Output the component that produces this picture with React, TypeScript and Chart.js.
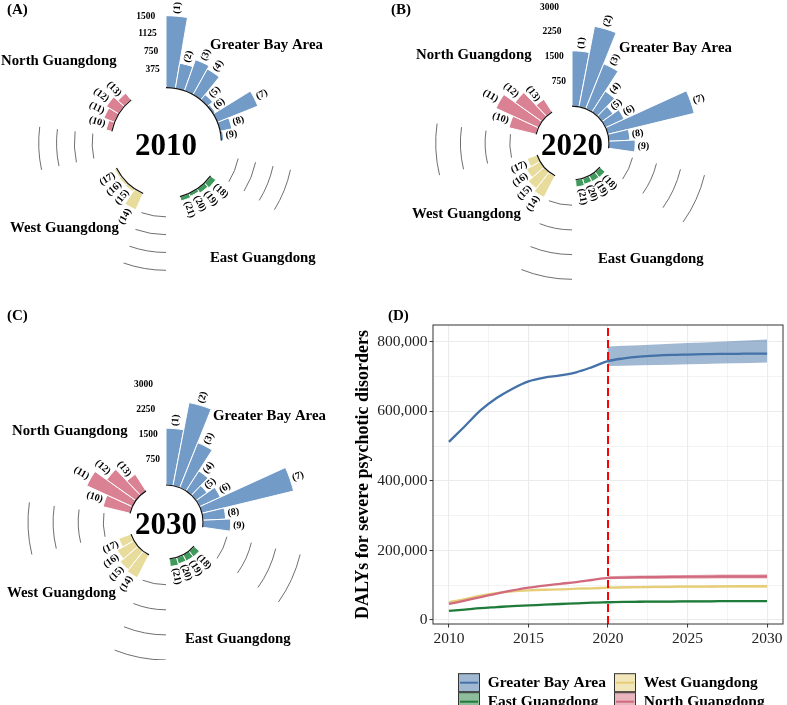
import React, { useEffect, useRef } from 'react';
import { Chart, registerables } from 'chart.js';

Chart.register(...registerables);

// ---------------- data ----------------
const regionNames = ['Greater Bay Area', 'North Guangdong', 'West Guangdong', 'East Guangdong'];
const gbaIds = [1, 2, 3, 4, 5, 6, 7, 8, 9];
const northIds = [10, 11, 12, 13];
const westIds = [14, 15, 16, 17];
const eastIds = [18, 19, 20, 21];

// per-city value, index = id - 1
const rate2010 = [1500, 525, 680, 605, 130, 40, 905, 240, 35, 110, 230, 290, 170, 365, 60, 50, 40, 125, 95, 55, 80];
const rate2020 = [1660, 2470, 1450, 730, 390, 600, 2680, 620, 780, 830, 1400, 980, 440, 720, 620, 460, 300, 190, 180, 170, 200];
const rate2030 = [1680, 2510, 1430, 690, 380, 660, 2800, 660, 810, 810, 1480, 1050, 570, 750, 690, 560, 370, 200, 190, 180, 210];

const ticks2010 = [375, 750, 1125, 1500];
const ticks2020 = [750, 1500, 2250, 3000];
const ticks2030 = [750, 1500, 2250, 3000];

const years = [2010, 2011, 2012, 2013, 2014, 2015, 2016, 2017, 2018, 2019, 2020, 2021, 2022, 2023, 2024, 2025, 2026, 2027, 2028, 2029, 2030];
const gbaDalys = [512000, 557000, 603000, 638000, 665000, 686000, 697000, 703000, 712000, 727000, 744000, 752000, 757000, 760000, 762000, 763000, 764000, 765000, 765000, 766000, 766000];
const northDalys = [46000, 56000, 66000, 76000, 85000, 93000, 99000, 104000, 109000, 115000, 121000, 122000, 123000, 123500, 124000, 124500, 124500, 125000, 125000, 125000, 125000];
const westDalys = [51000, 60000, 70000, 77000, 82000, 85000, 87000, 88000, 90000, 91000, 93000, 94000, 94500, 95000, 95500, 96000, 96000, 96500, 97000, 97000, 97000];
const eastDalys = [26000, 30000, 34000, 37000, 40000, 42000, 44000, 46000, 48000, 50000, 51000, 52000, 52500, 53000, 53000, 53500, 53500, 54000, 54000, 54000, 54000];

const projYears = [2020, 2021, 2022, 2023, 2024, 2025, 2026, 2027, 2028, 2029, 2030];
const gbaUpper = [786000, 788000, 790000, 792000, 794000, 796000, 798000, 800000, 802000, 804000, 806000];
const gbaLower = [730000, 731000, 732000, 733000, 734000, 735000, 736000, 737000, 738000, 739000, 740000];
const northUpper = [126000, 127000, 128000, 128500, 129000, 129500, 130000, 130500, 131000, 131000, 131500];
const northLower = [117000, 117500, 118000, 118000, 118500, 118500, 118500, 119000, 119000, 119000, 119000];
const westUpper = [96500, 97500, 98000, 98500, 99000, 99500, 99500, 100000, 100500, 100500, 101000];
const westLower = [90000, 90500, 91000, 91500, 92000, 92500, 92500, 93000, 93500, 93500, 93500];
const eastUpper = [53500, 54500, 55000, 55500, 55500, 56000, 56000, 56500, 56500, 56500, 56500];
const eastLower = [48500, 49500, 50000, 50500, 50500, 51000, 51000, 51500, 51500, 51500, 51500];

const xGridValues = [2010, 2012.5, 2015, 2017.5, 2020, 2022.5, 2025, 2027.5, 2030];
const yGridValues = [0, 100000, 200000, 300000, 400000, 500000, 600000, 700000, 800000];
const yTitle = 'DALYs for severe psychotic disorders';

// ---------------- styles ----------------
const SERIF = '"Liberation Serif", "Times New Roman", serif';
const BAR_COLORS = { gba: '#739BC7', north: '#DA8293', west: '#E8DC9C', east: '#3F9A5C' };
const LINE_COLORS = { gba: '#4472A8', north: '#D26A7E', west: '#E6CE78', east: '#1E7B39' };
const BAND_COLORS = {
  gba: 'rgba(68,114,168,0.5)',
  north: 'rgba(210,106,126,0.5)',
  west: 'rgba(230,206,120,0.5)',
  east: 'rgba(30,123,57,0.5)',
};

// clockwise ring order of region groups
const ringGroups = [
  { key: 'gba', ids: gbaIds },
  { key: 'east', ids: eastIds },
  { key: 'west', ids: westIds },
  { key: 'north', ids: northIds },
];

type Slot = { id: number | null; key: string };
type Ring = { slots: Slot[]; barRuns: number[][]; gapRuns: number[][] };

function buildRing(gapSize: number): Ring {
  const slots: Slot[] = [];
  const barRuns: number[][] = [];
  const gapRuns: number[][] = [];
  ringGroups.forEach((g) => {
    const run: number[] = [];
    g.ids.forEach((id) => { run.push(slots.length); slots.push({ id, key: g.key }); });
    barRuns.push(run);
    const gap: number[] = [];
    for (let k = 0; k < gapSize; k++) { gap.push(slots.length); slots.push({ id: null, key: 'gap' }); }
    gapRuns.push(gap);
  });
  return { slots, barRuns, gapRuns };
}

type Panel = {
  letter: string; year: string; values: number[]; ticks: number[];
  gapSize: number; guideFrom: number;
  left: number; top: number; w: number; h: number;
  cx: number; cy: number; R: number; rHole: number; rTop: number;
  letterX: number; letterY: number;
  labels: [string, number, number][];
};

const panels: Panel[] = [
  {
    letter: '(A)', year: '2010', values: rate2010, ticks: ticks2010, gapSize: 4, guideFrom: 1,
    left: 0, top: 0, w: 390, h: 290, cx: 166, cy: 143, R: 140, rHole: 56, rTop: 127.3,
    letterX: 7, letterY: 14,
    labels: [[regionNames[0], 44, -94], [regionNames[1], -165, -78], [regionNames[2], -156, 88.5], [regionNames[3], 44, 118.5]],
  },
  {
    letter: '(B)', year: '2020', values: rate2020, ticks: ticks2020, gapSize: 3, guideFrom: 0,
    left: 390, top: 0, w: 397, h: 290, cx: 182, cy: 143, R: 140, rHole: 37.5, rTop: 136.3,
    letterX: 1, letterY: 14,
    labels: [[regionNames[0], 47, -91.5], [regionNames[1], -156, -84], [regionNames[2], -160, 75], [regionNames[3], 26, 120]],
  },
  {
    letter: '(C)', year: '2030', values: rate2030, ticks: ticks2030, gapSize: 3, guideFrom: 0,
    left: 0, top: 300, w: 390, h: 360, cx: 166, cy: 222, R: 138, rHole: 37.6, rTop: 138,
    letterX: 7, letterY: 20,
    labels: [[regionNames[0], 47, -102], [regionNames[1], -154, -87], [regionNames[2], -159, 74.5], [regionNames[3], 19, 121]],
  },
];

function circularPlugin(p: Panel, ring: Ring) {
  return {
    id: 'circularDecor',
    afterDatasetsDraw(chart: any) {
      const ctx = chart.ctx;
      const s = chart.scales.r;
      const cx = s.xCenter;
      const cy = s.yCenter;
      const rOf = (v: number) => s.getDistanceFromCenterForValue(v);
      const els = chart.getDatasetMeta(0).data;
      const geo = (i: number) => {
        const e = els[i].getProps(['startAngle', 'endAngle', 'outerRadius'], true);
        return { a0: e.startAngle, a1: e.endAngle, mid: (e.startAngle + e.endAngle) / 2, r: e.outerRadius };
      };
      const r0 = rOf(0);
      ctx.save();
      // hole
      ctx.fillStyle = '#ffffff';
      ctx.beginPath();
      ctx.arc(cx, cy, r0, 0, Math.PI * 2);
      ctx.fill();
      // value guides in gaps (not in the last gap)
      ctx.strokeStyle = '#4a4a4a';
      ctx.lineWidth = 0.8;
      ring.gapRuns.slice(0, -1).forEach((run) => {
        const a = geo(run[p.guideFrom]).mid;
        const b = geo(run[run.length - 1]).mid;
        p.ticks.forEach((t) => {
          ctx.beginPath();
          ctx.arc(cx, cy, rOf(t), a, b);
          ctx.stroke();
        });
      });
      // group baselines
      ctx.strokeStyle = '#111';
      ctx.lineWidth = 1.2;
      ring.barRuns.forEach((run) => {
        const a = geo(run[0]).a0;
        const b = geo(run[run.length - 1]).a1;
        ctx.beginPath();
        ctx.arc(cx, cy, r0 - 0.6, a, b);
        ctx.stroke();
      });
      // bar labels
      ctx.fillStyle = '#000';
      ctx.font = `bold 10px ${SERIF}`;
      ctx.textBaseline = 'middle';
      ring.slots.forEach((slot, i) => {
        if (slot.id == null) return;
        const g = geo(i);
        const rr = g.r + 2.5;
        const right = g.mid < Math.PI / 2;
        ctx.save();
        ctx.translate(cx + rr * Math.cos(g.mid), cy + rr * Math.sin(g.mid));
        ctx.rotate(right ? g.mid : g.mid + Math.PI);
        ctx.textAlign = right ? 'left' : 'right';
        ctx.fillText(`(${slot.id})`, 0, 0);
        ctx.restore();
      });
      // scale labels in the last gap
      const lastGap = ring.gapRuns[ring.gapRuns.length - 1];
      const ta = geo(lastGap[lastGap.length - 1]).mid;
      ctx.font = `bold 9.5px ${SERIF}`;
      ctx.textAlign = 'right';
      p.ticks.forEach((t) => {
        const r = rOf(t);
        ctx.fillText(String(t), cx + r * Math.cos(ta), cy + r * Math.sin(ta));
      });
      // year
      ctx.font = `bold 31px ${SERIF}`;
      ctx.textAlign = 'center';
      ctx.textBaseline = 'alphabetic';
      ctx.fillText(p.year, cx, cy + 11.5);
      // region labels
      ctx.font = `bold 14.8px ${SERIF}`;
      ctx.textAlign = 'left';
      p.labels.forEach(([txt, dx, dy]) => ctx.fillText(txt, cx + dx, cy + dy));
      // panel letter
      ctx.font = `bold 15px ${SERIF}`;
      ctx.fillText(p.letter, p.letterX, p.letterY);
      ctx.restore();
    },
  };
}

function PolarPanel({ p }: { p: Panel }) {
  const ref = useRef<HTMLCanvasElement>(null);
  useEffect(() => {
    const ring = buildRing(p.gapSize);
    const slope = (p.rTop - p.rHole) / p.ticks[p.ticks.length - 1];
    const min = -p.rHole / slope;
    const max = min + p.R / slope;
    const values = ring.slots.map((s) => (s.id == null ? 0 : p.values[s.id - 1]));
    const colors = ring.slots.map((s) => (s.id == null ? 'rgba(0,0,0,0)' : (BAR_COLORS as any)[s.key]));
    const borders = ring.slots.map((s) => (s.id == null ? 0 : 1));
    const chart = new Chart(ref.current as HTMLCanvasElement, {
      type: 'polarArea',
      data: {
        labels: ring.slots.map((s, i) => (s.id == null ? `gap${i}` : `(${s.id})`)),
        datasets: [{ data: values, backgroundColor: colors, borderColor: '#ffffff', borderWidth: borders as any, clip: false as any }],
      },
      options: {
        responsive: false,
        animation: false,
        devicePixelRatio: 1,
        layout: {
          padding: { left: p.cx - p.R, top: p.cy - p.R, right: p.w - p.cx - p.R, bottom: p.h - p.cy - p.R },
        },
        scales: { r: { display: false, min, max, startAngle: 0 } as any },
        plugins: { legend: { display: false }, tooltip: { enabled: false } },
      },
      plugins: [circularPlugin(p, ring) as any],
    });
    return () => chart.destroy();
  }, []);
  return (
    <canvas ref={ref} width={p.w} height={p.h}
      style={{ position: 'absolute', left: p.left, top: p.top, width: p.w, height: p.h }} />
  );
}

const legendItems = [
  { text: regionNames[0], key: 'gba', col: 0, row: 0 },
  { text: regionNames[2], key: 'west', col: 1, row: 0 },
  { text: regionNames[3], key: 'east', col: 0, row: 1 },
  { text: regionNames[1], key: 'north', col: 1, row: 1 },
];

const lineDecor = {
  id: 'lineDecor',
  afterDraw(chart: any) {
    const ctx = chart.ctx;
    const a = chart.chartArea;
    ctx.save();
    ctx.strokeStyle = '#333';
    ctx.lineWidth = 1;
    ctx.strokeRect(a.left, a.top, a.right - a.left, a.bottom - a.top);
    // panel letter
    ctx.fillStyle = '#000';
    ctx.font = `bold 15px ${SERIF}`;
    ctx.textAlign = 'left';
    ctx.textBaseline = 'alphabetic';
    ctx.fillText('(D)', 48, 20);
    // legend
    const colX = [118, 274];
    const rowY = [382.7, 401.7];
    legendItems.forEach((it) => {
      const x = colX[it.col];
      const y = rowY[it.row];
      ctx.fillStyle = '#fff';
      ctx.fillRect(x, y - 9.5, 22, 19);
      ctx.fillStyle = (BAND_COLORS as any)[it.key];
      ctx.fillRect(x, y - 9.5, 22, 19);
      ctx.strokeStyle = '#333';
      ctx.lineWidth = 1;
      ctx.strokeRect(x + 0.5, y - 9, 21, 18);
      ctx.strokeStyle = (LINE_COLORS as any)[it.key];
      ctx.lineWidth = 2;
      ctx.beginPath();
      ctx.moveTo(x + 2, y);
      ctx.lineTo(x + 20, y);
      ctx.stroke();
      ctx.fillStyle = '#000';
      ctx.font = `bold 15.5px ${SERIF}`;
      ctx.textBaseline = 'middle';
      ctx.fillText(it.text, x + 29.7, y + 0.5);
    });
    ctx.restore();
  },
};

function toPts(xs: number[], ys: number[]) {
  return xs.map((x, i) => ({ x, y: ys[i] }));
}

function LinePanel() {
  const ref = useRef<HTMLCanvasElement>(null);
  useEffect(() => {
    const isMajorX = (v: number) => v % 5 === 0;
    const isMajorY = (v: number) => v % 200000 === 0;
    const tickFont = { family: SERIF, size: 15.5 };
    const line = (key: string, ys: number[]) => ({
      data: toPts(years, ys), borderColor: (LINE_COLORS as any)[key], borderWidth: 2.3,
      pointRadius: 0, cubicInterpolationMode: 'monotone', fill: false,
    });
    const band = (key: string, up: number[], lo: number[]) => [
      { data: toPts(projYears, up), borderColor: 'rgba(0,0,0,0)', borderWidth: 0, pointRadius: 0,
        backgroundColor: (BAND_COLORS as any)[key], fill: '+1' },
      { data: toPts(projYears, lo), borderColor: 'rgba(0,0,0,0)', borderWidth: 0, pointRadius: 0, fill: false },
    ];
    const chart = new Chart(ref.current as HTMLCanvasElement, {
      type: 'line',
      data: {
        datasets: [
          { data: [{ x: 2020, y: -11500 }, { x: 2020, y: 848000 }], borderColor: '#FF0000', borderWidth: 2,
            borderDash: [8, 4], pointRadius: 0, fill: false },
          line('gba', gbaDalys),
          line('north', northDalys),
          line('west', westDalys),
          line('east', eastDalys),
          ...band('gba', gbaUpper, gbaLower),
          ...band('north', northUpper, northLower),
          ...band('west', westUpper, westLower),
          ...band('east', eastUpper, eastLower),
        ] as any,
      },
      options: {
        responsive: false,
        animation: false,
        devicePixelRatio: 1,
        layout: { padding: { left: 0, right: 4, top: 25, bottom: 51 } },
        scales: {
          x: {
            type: 'linear', min: 2009, max: 2031,
            afterBuildTicks: (s: any) => { s.ticks = xGridValues.map((value) => ({ value })); },
            afterFit: (s: any) => { s.height = 30; },
            ticks: {
              autoSkip: false, maxRotation: 0, padding: 2, color: '#222', font: tickFont,
              callback: (v: any) => (isMajorX(v) ? String(v) : ''),
            },
            grid: {
              color: '#EBEBEB',
              lineWidth: (c: any) => (c.tick && isMajorX(c.tick.value) ? 1.1 : 0.6),
              tickColor: (c: any) => (c.tick && isMajorX(c.tick.value) ? '#333' : 'rgba(0,0,0,0)'),
              tickLength: 3.5, tickWidth: 1,
            },
            border: { display: false },
          },
          y: {
            type: 'linear', min: -11500, max: 848000,
            afterBuildTicks: (s: any) => { s.ticks = yGridValues.map((value) => ({ value })); },
            afterFit: (s: any) => { s.width = 93; },
            ticks: {
              autoSkip: false, padding: 2, color: '#222', font: tickFont,
              callback: (v: any) => (isMajorY(v) ? Number(v).toLocaleString('en-US') : ''),
            },
            grid: {
              color: '#EBEBEB',
              lineWidth: (c: any) => (c.tick && isMajorY(c.tick.value) ? 1.1 : 0.6),
              tickColor: (c: any) => (c.tick && isMajorY(c.tick.value) ? '#333' : 'rgba(0,0,0,0)'),
              tickLength: 3.5, tickWidth: 1,
            },
            border: { display: false },
            title: {
              display: true, text: yTitle, color: '#000',
              font: { family: SERIF, size: 18, weight: 'bold' },
              padding: { top: 12.2, bottom: 0 },
            },
          },
        },
        plugins: { legend: { display: false }, tooltip: { enabled: false } },
      } as any,
      plugins: [lineDecor as any],
    });
    return () => chart.destroy();
  }, []);
  return (
    <canvas ref={ref} width={447} height={405}
      style={{ position: 'absolute', left: 340, top: 300, width: 447, height: 405 }} />
  );
}

export default function App() {
  return (
    <div style={{ position: 'absolute', left: 0, top: 0, width: 787, height: 705, overflow: 'hidden', background: '#fff' }}>
      {panels.map((p) => <PolarPanel key={p.letter} p={p} />)}
      <LinePanel />
    </div>
  );
}
